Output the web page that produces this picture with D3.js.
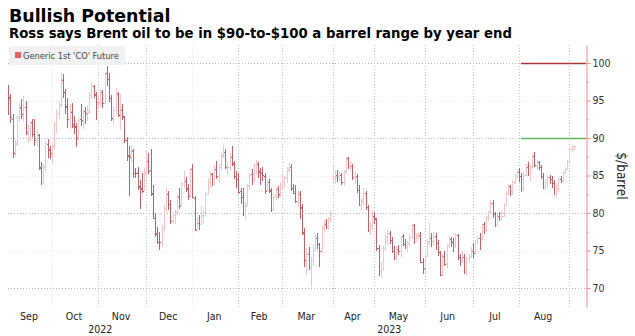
<!DOCTYPE html>
<html><head><meta charset="utf-8">
<script src="https://cdn.jsdelivr.net/npm/d3@7"></script>
<style>body{margin:0;background:#fff;}svg{display:block;}</style>
</head><body>
<svg id="c" width="635" height="336"></svg>
<script>
// ---- data ----
const titleText = "Bullish Potential";
const subtitleText = "Ross says Brent oil to be in $90-to-$100 a barrel range by year end";
const seriesName = "Generic 1st 'CO' Future";
const startDate = "2022-09-05";
const endDate = "2023-09-05";
const holidays = ["2022-12-26", "2023-01-02", "2023-04-07"];

const opens = [
  96.5,95.5,92.6,88.2,89.3,92.8,94.1,93.0,94.2,90.6,91.3,92.1,90.6,89.9,90.4,86.0,84.2,86.2,89.2,88.4,
  87.8,88.9,91.7,93.4,94.5,97.8,96.1,94.2,92.4,93.5,91.9,91.5,90.1,92.5,92.3,93.6,93.2,93.6,95.8,96.9,95.9,
  94.6,94.8,96.1,94.7,98.7,97.9,95.3,92.6,93.8,95.9,93.2,93.8,92.8,89.7,87.7,87.6,88.3,85.4,85.3,83.5,83.3,83.1,
  85.5,86.9,85.7,82.6,79.4,77.3,76.2,76.0,78.0,80.7,82.6,81.2,79.1,79.8,80.1,82.3,81.1,84.0,84.3,83.2,82.4,
  85.9,82.0,77.9,78.7,78.6,79.6,80.1,82.6,84.1,85.2,84.5,85.9,84.9,86.2,87.7,88.2,86.0,86.1,87.5,86.6,84.9,
  84.6,82.9,82.1,79.9,81.1,83.6,85.2,84.5,86.4,86.6,85.5,85.4,85.0,83.1,84.1,83.0,80.6,82.3,83.2,82.4,
  83.9,84.3,84.8,85.9,86.2,83.3,82.7,81.5,82.6,80.7,77.4,73.6,74.6,72.9,73.8,75.3,76.7,75.9,75.0,78.1,78.6,78.3,79.3,
  84.5,84.7,85.1,85.0,85.1,84.2,85.6,87.3,86.1,86.3,84.7,84.9,83.1,81.1,81.6,82.7,80.8,77.7,78.4,
  79.6,79.2,75.3,72.3,72.5,75.3,77.0,77.4,76.4,75.0,74.2,75.2,74.9,77.0,75.9,75.6,76.0,76.8,78.4,76.3,77.0,77.1,73.5,
  72.6,74.3,76.1,76.7,76.3,77.0,76.0,74.8,71.9,74.3,73.2,75.7,76.6,76.1,75.9,77.1,74.1,73.9,74.2,72.3,74.0,74.3,
  75.0,74.8,76.3,76.7,76.5,78.5,77.7,79.4,80.1,81.4,79.9,78.5,79.6,79.5,79.6,81.1,82.7,83.6,82.9,84.2,85.0,
  85.5,84.9,83.2,85.1,86.2,85.3,86.2,87.6,86.4,86.8,86.2,84.9,83.5,84.1,84.8,84.5,84.0,83.2,83.4,84.5,84.4,85.5,85.9,86.9,88.6,88.6
];
const highs = [
  97.1,95.9,93.2,89.8,93.0,94.7,95.2,95.6,94.9,91.7,92.2,92.6,92.6,91.2,90.6,86.8,86.6,89.6,89.9,89.0,
  89.3,92.1,93.9,95.0,98.7,98.6,96.6,95.3,94.6,94.7,93.0,92.0,92.7,94.6,93.8,94.2,94.4,96.0,97.4,97.1,96.2,
  95.8,96.4,96.4,98.8,99.6,98.7,95.8,94.2,96.7,96.1,95.9,94.5,93.0,90.1,89.0,89.0,88.6,86.0,86.2,84.4,85.4,86.0,
  88.4,88.0,88.5,83.7,80.0,78.1,77.5,78.4,81.1,83.3,82.9,81.7,80.2,80.4,82.5,83.4,84.1,85.6,84.8,83.9,86.0,
  86.6,82.3,79.5,79.7,81.0,80.3,82.8,84.7,85.5,85.3,86.4,87.0,86.5,88.0,89.1,88.6,86.8,88.0,89.0,86.9,85.6,
  85.4,83.4,83.4,81.5,83.9,85.3,85.9,86.7,87.1,86.8,86.0,86.1,85.3,84.4,84.6,83.3,82.6,83.5,83.6,84.2,
  85.1,85.0,86.2,86.7,86.5,83.9,83.8,83.0,83.0,81.2,78.0,75.3,75.5,74.1,75.7,77.1,77.3,76.0,78.4,79.1,79.2,79.5,80.3,
  86.4,85.7,85.8,85.6,85.3,85.8,87.5,87.5,87.0,86.6,85.5,85.2,83.7,82.0,83.3,83.0,81.1,78.8,80.3,
  80.2,79.4,75.7,73.5,75.6,77.2,77.8,77.6,76.8,75.6,75.6,75.8,77.0,77.2,76.5,76.3,77.2,78.6,78.6,77.3,77.3,77.5,74.0,
  74.5,76.5,78.7,77.3,77.5,77.3,76.4,74.9,74.5,75.0,75.9,77.0,76.8,76.7,77.4,77.2,74.6,74.9,74.5,74.2,74.6,75.5,
  76.0,76.4,77.0,77.3,78.6,78.8,79.6,80.3,81.8,81.7,80.1,79.9,80.2,80.3,81.3,82.9,83.9,83.8,84.4,85.2,85.8,
  86.0,85.4,85.3,86.5,86.8,86.4,87.7,88.1,87.1,87.0,86.4,85.4,84.4,84.9,85.1,84.9,84.4,83.9,84.7,85.0,85.6,86.2,87.1,88.8,89.1,89.0
];
const lows = [
  93.1,92.0,87.3,87.6,89.0,92.1,92.6,92.3,90.4,89.4,89.6,90.2,89.0,88.8,85.8,83.7,83.9,85.6,87.3,87.2,
  86.6,88.6,90.7,92.6,94.2,95.4,93.2,91.4,91.2,91.3,90.6,88.8,89.6,91.6,91.2,91.9,92.3,93.2,95.2,95.3,92.4,
  93.9,94.2,94.0,94.5,96.9,94.8,92.3,91.9,93.2,92.8,91.1,92.4,89.4,87.0,82.3,86.8,84.7,84.7,83.1,80.6,82.7,82.9,
  85.0,85.2,82.3,79.2,76.8,75.9,75.1,75.5,77.6,80.2,80.4,78.6,78.6,78.5,79.7,80.6,80.9,83.3,82.8,81.7,82.2,
  82.0,77.6,77.7,77.8,78.4,78.6,79.6,82.4,83.3,83.6,83.8,84.6,84.2,85.8,87.3,85.9,85.2,85.8,86.3,84.6,83.3,
  82.6,81.2,79.6,79.2,80.9,83.1,83.7,84.1,85.2,84.7,83.8,84.3,82.6,82.9,82.7,80.2,80.3,81.8,82.0,82.2,
  83.2,83.4,84.0,85.3,82.9,82.6,81.3,80.9,79.2,77.1,72.8,71.8,72.4,70.2,73.0,74.9,75.2,72.8,74.7,77.5,77.9,77.8,78.8,
  83.9,83.9,84.1,84.3,83.8,83.6,85.3,85.9,85.7,84.4,83.9,82.7,80.9,80.4,81.1,80.4,77.5,77.1,77.8,
  78.6,74.9,71.6,71.3,72.3,75.0,75.8,75.9,74.7,73.8,73.7,74.4,74.0,75.6,75.2,75.0,75.6,76.6,75.9,76.1,76.6,73.4,71.9,
  72.0,74.1,75.8,75.5,75.8,75.1,74.3,71.6,71.6,72.9,72.7,75.4,75.5,74.8,75.3,73.8,72.9,73.3,71.9,71.8,73.4,74.0,
  74.0,74.6,75.7,75.1,76.3,77.2,77.5,78.9,80.0,79.4,78.2,78.2,78.9,78.9,79.5,80.9,82.4,82.3,82.4,83.9,84.5,
  84.2,82.8,83.0,84.9,84.9,84.3,85.9,86.1,85.8,85.7,84.5,83.2,83.1,83.4,83.9,83.4,82.4,82.0,82.8,84.0,84.2,85.2,85.8,86.8,88.2,88.4
];
const closes = [
  95.3,92.8,88.0,89.2,92.8,94.0,93.2,94.1,90.8,91.4,92.0,90.6,89.8,90.5,86.2,84.1,86.3,89.3,88.5,88.0,
  88.9,91.8,93.4,94.4,97.9,96.2,94.3,92.5,93.6,91.6,91.6,90.0,92.4,92.4,93.5,93.3,93.5,95.7,97.0,95.8,94.8,
  94.7,96.2,94.7,98.6,97.9,95.4,92.7,93.7,96.0,93.1,93.9,92.9,89.8,87.6,87.5,88.4,85.4,85.3,83.6,83.2,83.0,85.4,
  86.9,85.6,82.7,79.4,77.2,76.2,76.1,78.0,80.7,82.7,81.2,79.0,79.8,80.0,82.2,81.0,83.9,84.3,83.3,82.3,85.9,
  82.1,77.8,78.7,78.6,79.7,80.1,82.7,84.0,85.3,84.5,85.9,85.0,86.2,87.6,88.2,86.1,86.1,87.5,86.7,84.9,84.5,
  82.8,82.2,79.9,81.0,83.7,85.1,84.5,86.4,86.6,85.6,85.4,85.1,83.0,84.1,83.1,80.6,82.2,83.2,82.5,83.9,
  84.3,84.8,85.8,86.2,83.3,82.7,81.6,82.8,80.8,77.5,73.7,74.7,73.0,73.8,75.3,76.7,75.9,75.0,78.1,78.7,78.3,79.3,79.8,
  84.9,84.9,85.0,85.1,84.2,85.6,87.3,86.1,86.3,84.8,84.8,83.1,81.1,81.7,82.7,80.8,77.7,78.4,79.5,
  79.3,75.3,72.3,72.5,75.3,77.0,77.4,76.4,75.0,74.2,75.2,74.9,77.0,75.9,75.6,76.0,76.8,78.4,76.3,77.0,77.1,73.5,72.7,
  74.3,76.1,76.7,76.3,77.0,76.0,74.8,71.8,74.3,73.2,75.7,76.6,76.1,75.9,77.1,74.1,73.9,74.2,72.3,74.0,74.3,74.9,
  74.7,76.3,76.7,76.5,78.5,77.7,79.4,80.1,81.4,79.9,78.5,79.6,79.5,79.6,81.1,82.7,83.6,82.9,84.2,85.0,85.6,
  84.9,83.2,85.1,86.2,85.3,86.2,87.6,86.4,86.8,86.2,84.9,83.5,84.1,84.8,84.5,84.0,83.2,83.4,84.5,84.4,85.5,85.9,86.9,88.6,88.9,88.9
];
const yTicks = [70, 75, 80, 85, 90, 95, 100];
const yMinorTicks = [72.5, 77.5, 82.5, 87.5, 92.5, 97.5];
const targetValues = [100, 90];
const targetColors = ["#a93535", "#5cb85c"];
const targetStart = "2023-08-02";
const yLabel = "$/barrel";

// ---- layout ----
const P = {l: 8, r: 586, t: 45, b: 307};
const condensed = "'DejaVu Sans Condensed', 'DejaVu Sans', sans-serif";
const upColor = "#f5c4c6", downColor = "#bb6167";

const parse = d3.utcParse("%Y-%m-%d"), fmt = d3.utcFormat("%Y-%m-%d");
const hol = new Set(holidays);
const dates = d3.utcDays(parse(startDate), d3.utcDay.offset(parse(endDate), 1))
  .filter(d => d.getUTCDay() % 6 !== 0 && !hol.has(fmt(d)));
const data = dates.map((d, i) => ({i, date: d, o: opens[i], h: highs[i], l: lows[i], c: closes[i]}));

const x = d3.scaleLinear().domain([0, dates.length - 1]).range([8.15, 573.8]);
const y = d3.scaleLinear().domain([67.47, 102.4]).range([P.b, P.t]);

const svg = d3.select("#c");
svg.append("rect").attr("width", 635).attr("height", 336).attr("fill", "#fff");
svg.append("defs").append("clipPath").attr("id", "clip").append("rect")
  .attr("x", P.l).attr("y", P.t).attr("width", P.r - P.l).attr("height", P.b - P.t);

// titles
svg.append("text").attr("x", 9).attr("y", 22).text(titleText)
  .attr("font-family", "'DejaVu Sans', sans-serif").attr("font-weight", "bold").attr("font-size", 17.4).attr("fill", "#000");
svg.append("text").attr("x", 9).attr("y", 38).text(subtitleText)
  .attr("font-family", "'DejaVu Sans', sans-serif").attr("font-weight", "bold").attr("font-size", 13.25).attr("fill", "#000");

// month grouping
const months = d3.groups(data, d => +d3.utcMonth(d.date)).map(([k, v]) => ({
  date: new Date(k), first: v[0].i, last: v[v.length - 1].i, n: v.length
}));

// gridlines
const grid = svg.append("g");
grid.selectAll("line.h").data(yTicks).join("line")
  .attr("x1", P.l).attr("x2", P.r)
  .attr("y1", d => Math.round(y(d)) + 0.5).attr("y2", d => Math.round(y(d)) + 0.5)
  .attr("stroke", d => d % 10 === 0 ? "#b8b8b8" : "#e6e6e6")
  .attr("stroke-dasharray", "1,2");
grid.selectAll("line.v").data(months.slice(1)).join("line")
  .attr("x1", d => Math.round(x(d.first)) + 0.5).attr("x2", d => Math.round(x(d.first)) + 0.5)
  .attr("y1", P.t).attr("y2", P.b)
  .attr("stroke", d => (d.date.getUTCMonth() === 0 || d.date.getUTCMonth() === 9) ? "#e4e4e4" : "#c4c4c4")
  .attr("stroke-dasharray", "1,2");

// target lines
const tStart = x(dates.findIndex(d => fmt(d) === targetStart));
svg.append("g").selectAll("line").data(targetValues).join("line")
  .attr("x1", tStart).attr("x2", P.r)
  .attr("y1", d => Math.round(y(d)) + 0.5).attr("y2", d => Math.round(y(d)) + 0.5)
  .attr("stroke", (d, i) => targetColors[i]).attr("stroke-width", 1.3);

// OHLC bars
const bars = svg.append("g").attr("clip-path", "url(#clip)").attr("shape-rendering", "crispEdges");
const bg = bars.selectAll("g").data(data).join("g")
  .attr("fill", d => d.c >= d.o ? upColor : downColor);
bg.append("rect")
  .attr("x", d => Math.round(x(d.i))).attr("y", d => Math.round(y(d.h)))
  .attr("width", 1).attr("height", d => Math.max(1, Math.round(y(d.l)) - Math.round(y(d.h))));
bg.append("rect")
  .attr("x", d => Math.round(x(d.i)) - 1).attr("y", d => Math.round(y(d.o)))
  .attr("width", 1).attr("height", 1);
bg.append("rect")
  .attr("x", d => Math.round(x(d.i)) + 1).attr("y", d => Math.round(y(d.c)))
  .attr("width", 1).attr("height", 1);

// legend
const lg = svg.append("g");
lg.append("rect").attr("x", 9).attr("y", 46).attr("width", 116).attr("height", 19).attr("fill", "#f1f1f1").attr("rx", 1);
lg.append("rect").attr("x", 15).attr("y", 52).attr("width", 6).attr("height", 6).attr("fill", "#e8605f");
lg.append("text").attr("x", 23).attr("y", 59).text(seriesName)
  .attr("font-family", condensed).attr("font-size", 9.2).attr("fill", "#444");

// right axis
const ax = svg.append("g").attr("transform", `translate(${P.r + 0.5},0)`)
  .call(d3.axisRight(y).tickValues(yTicks).tickSize(4).tickSizeOuter(0).tickPadding(2));
ax.select(".domain").attr("stroke", "#f08a8a");
ax.selectAll(".tick line").attr("stroke", "#f08a8a");
ax.selectAll(".tick text").attr("font-family", condensed).attr("font-size", 10.5).attr("fill", "#333");
const axm = svg.append("g").attr("transform", `translate(${P.r + 0.5},0)`)
  .call(d3.axisRight(y).tickValues(yMinorTicks).tickSize(2).tickSizeOuter(0).tickFormat(""));
axm.select(".domain").remove();
axm.selectAll(".tick line").attr("stroke", "#f08a8a");

svg.append("text").attr("transform", `translate(617,176) rotate(90)`).attr("text-anchor", "middle")
  .text(yLabel).attr("font-family", condensed).attr("font-size", 13.5).attr("fill", "#222");

// x axis labels
const monthFmt = d3.utcFormat("%b");
svg.append("g").selectAll("text").data(months.filter(m => m.n >= 10)).join("text")
  .attr("x", d => (x(d.first) + x(d.last)) / 2).attr("y", 320).attr("text-anchor", "middle")
  .text(d => monthFmt(d.date))
  .attr("font-family", condensed).attr("font-size", 10.5).attr("fill", "#222");
const years = d3.groups(data, d => d.date.getUTCFullYear()).map(([yr, v]) => ({yr, first: v[0].i}));
years.forEach((yv, k) => {
  const left = k === 0 ? P.l : x(yv.first);
  const right = k === years.length - 1 ? P.r : x(years[k + 1].first);
  yv.cx = (left + right) / 2;
});
svg.append("g").selectAll("text").data(years).join("text")
  .attr("x", d => d.cx).attr("y", 333).attr("text-anchor", "middle").text(d => d.yr)
  .attr("font-family", condensed).attr("font-size", 10.5).attr("fill", "#222");
</script>
</body></html>
